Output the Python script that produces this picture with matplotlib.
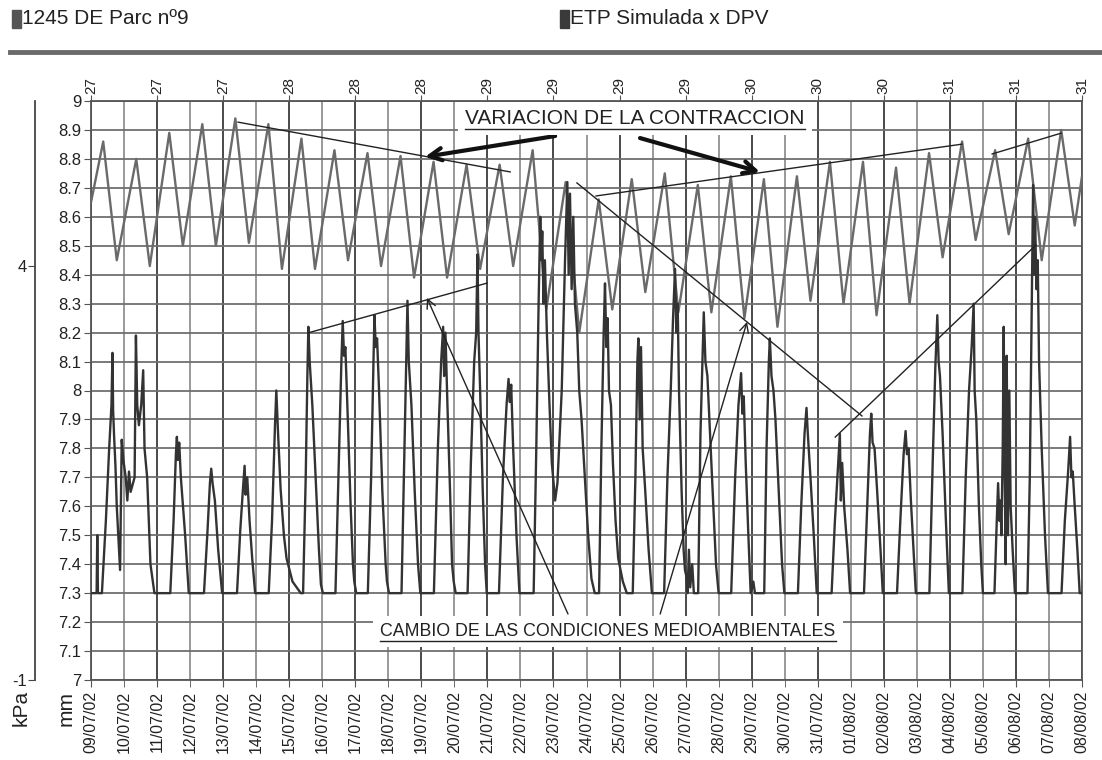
import numpy as np
import matplotlib
matplotlib.use("Agg")
import matplotlib.pyplot as plt
from matplotlib.lines import Line2D
from matplotlib.patches import Rectangle

plt.rcParams['font.family'] = ['Liberation Sans', 'DejaVu Sans']

# ---------------- data ----------------
dates = ["09/07/02", "10/07/02", "11/07/02", "12/07/02", "13/07/02", "14/07/02",
         "15/07/02", "16/07/02", "17/07/02", "18/07/02", "19/07/02", "20/07/02",
         "21/07/02", "22/07/02", "23/07/02", "24/07/02", "25/07/02", "26/07/02",
         "27/07/02", "28/07/02", "29/07/02", "30/07/02", "31/07/02", "01/08/02",
         "02/08/02", "03/08/02", "04/08/02", "05/08/02", "06/08/02", "07/08/02",
         "08/08/02"]
top_labels = ["27", "27", "27", "28", "28", "28", "29", "29", "29", "29",
              "30", "30", "30", "31", "31", "31"]
mm_ticks = [7.0, 7.1, 7.2, 7.3, 7.4, 7.5, 7.6, 7.7, 7.8, 7.9, 8.0,
            8.1, 8.2, 8.3, 8.4, 8.5, 8.6, 8.7, 8.8, 8.9, 9.0]
mm_labels = ["7", "7.1", "7.2", "7.3", "7.4", "7.5", "7.6", "7.7", "7.8", "7.9", "8",
             "8.1", "8.2", "8.3", "8.4", "8.5", "8.6", "8.7", "8.8", "8.9", "9"]
kpa_ticks = [-1, 4]

# dendrometer (mm): daily maximum / minimum, start / end values
dendro_start = 8.65
dendro_end = 8.74
dendro_peak = [8.86, 8.80, 8.89, 8.92, 8.94, 8.92, 8.87, 8.83, 8.82, 8.81,
               8.79, 8.78, 8.78, 8.83, 8.72, 8.66, 8.73, 8.75, 8.71, 8.74,
               8.73, 8.74, 8.79, 8.79, 8.77, 8.82, 8.86, 8.83, 8.87, 8.90]
dendro_trough = [8.45, 8.43, 8.50, 8.50, 8.51, 8.42, 8.42, 8.45, 8.43, 8.39,
                 8.39, 8.42, 8.43, 8.28, 8.20, 8.28, 8.34, 8.27, 8.27, 8.25,
                 8.22, 8.31, 8.30, 8.26, 8.30, 8.46, 8.52, 8.54, 8.45, 8.57]
peak_time = 0.37      # fraction of the day of the daily maximum
trough_time = 0.78    # fraction of the day of the daily minimum

# ETP simulada x DPV: turning points (days since 09/07/02), read on the mm grid
etp_time = [
    0.00, 0.17, 0.19, 0.21, 0.33, 0.45, 0.55, 0.62, 0.65, 0.67, 0.70, 0.74, 0.78, 0.88, 0.93,
    0.98, 1.05, 1.10, 1.15, 1.20, 1.32, 1.36, 1.40, 1.45, 1.52, 1.58, 1.62, 1.70, 1.80, 1.92,
    2.40, 2.50, 2.57, 2.60, 2.63, 2.67, 2.72, 2.85, 2.96,
    3.42, 3.52, 3.60, 3.64, 3.68, 3.75, 3.85, 3.97,
    4.42, 4.52, 4.60, 4.65, 4.68, 4.73, 4.80, 4.88, 4.97,
    5.38, 5.48, 5.57, 5.61, 5.66, 5.74, 5.84, 5.92, 6.10, 6.35,
    6.42, 6.50, 6.55, 6.58, 6.62, 6.70, 6.80, 6.90, 6.96, 7.02,
    7.40, 7.50, 7.58, 7.62, 7.66, 7.70, 7.76, 7.86, 7.93, 7.97, 8.03,
    8.38, 8.48, 8.55, 8.58, 8.62, 8.66, 8.72, 8.82, 8.92, 8.96, 9.02,
    9.40, 9.48, 9.55, 9.58, 9.62, 9.70, 9.80, 9.90, 9.97,
    10.38, 10.50, 10.60, 10.66, 10.69, 10.73, 10.79, 10.87, 10.93, 10.98, 11.04,
    11.40, 11.50, 11.60, 11.66, 11.70, 11.73, 11.78, 11.86, 11.93, 11.98,
    12.35, 12.47, 12.58, 12.64, 12.68, 12.72, 12.78, 12.88, 12.97,
    13.40, 13.48, 13.55, 13.60, 13.63, 13.66, 13.70, 13.74, 13.80, 13.88,
    13.95, 14.05, 14.12, 14.25, 14.35, 14.42, 14.46, 14.50, 14.55, 14.60,
    14.65, 14.72, 14.78, 14.85, 14.95, 15.05, 15.15, 15.25,
    15.38, 15.45, 15.52, 15.56, 15.60, 15.64, 15.68, 15.74, 15.80, 15.88, 15.96, 16.10, 16.22,
    16.40, 16.48, 16.54, 16.57, 16.61, 16.65, 16.70, 16.78, 16.88, 16.98,
    17.35, 17.45, 17.55, 17.62, 17.68, 17.72, 17.76, 17.80, 17.88, 17.94, 17.98,
    18.02, 18.06, 18.10, 18.14, 18.20, 18.25, 18.38, 18.45, 18.52, 18.55, 18.60, 18.66,
    18.72, 18.82, 18.92, 19.00,
    19.38, 19.50, 19.60, 19.68, 19.72, 19.76, 19.82, 19.90, 19.97, 20.05, 20.10,
    20.38, 20.45, 20.52, 20.55, 20.60, 20.66, 20.72, 20.82, 20.92, 20.99,
    21.40, 21.50, 21.60, 21.66, 21.70, 21.78, 21.88, 21.97,
    22.42, 22.52, 22.62, 22.67, 22.70, 22.74, 22.80, 22.90, 22.98,
    23.40, 23.50, 23.58, 23.62, 23.66, 23.72, 23.80, 23.90, 23.97,
    24.40, 24.50, 24.60, 24.66, 24.70, 24.75, 24.82, 24.90, 24.97,
    25.38, 25.48, 25.56, 25.62, 25.66, 25.70, 25.78, 25.88, 25.97,
    26.38, 26.48, 26.58, 26.66, 26.72, 26.75, 26.80, 26.88, 26.95, 27.00,
    27.35, 27.42, 27.46, 27.50, 27.53, 27.56, 27.60, 27.63, 27.66, 27.69, 27.72, 27.76,
    27.80, 27.84, 27.90, 27.97,
    28.35, 28.42, 28.48, 28.52, 28.55, 28.58, 28.62, 28.66, 28.70, 28.78, 28.88, 28.97,
    29.38, 29.48, 29.58, 29.64, 29.68, 29.72, 29.78, 29.86, 29.93, 30.00,
]
etp_mm = [
    7.30, 7.30, 7.50, 7.30, 7.30, 7.55, 7.80, 7.95, 8.13, 7.93, 7.84, 7.74, 7.60, 7.38, 7.83,
    7.76, 7.70, 7.62, 7.72, 7.65, 7.70, 8.19, 7.95, 7.88, 7.95, 8.07, 7.80, 7.70, 7.40, 7.30,
    7.30, 7.55, 7.78, 7.84, 7.76, 7.82, 7.70, 7.50, 7.30,
    7.30, 7.50, 7.68, 7.73, 7.68, 7.62, 7.45, 7.30,
    7.30, 7.52, 7.66, 7.74, 7.64, 7.70, 7.55, 7.42, 7.30,
    7.30, 7.55, 7.88, 8.00, 7.86, 7.66, 7.50, 7.42, 7.34, 7.30,
    7.30, 7.70, 8.05, 8.22, 8.10, 7.95, 7.70, 7.45, 7.33, 7.30,
    7.30, 7.75, 8.10, 8.24, 8.12, 8.15, 7.95, 7.60, 7.40, 7.34, 7.30,
    7.30, 7.70, 8.10, 8.26, 8.15, 8.18, 8.00, 7.65, 7.40, 7.34, 7.30,
    7.30, 7.75, 8.15, 8.31, 8.10, 7.95, 7.65, 7.40, 7.30,
    7.30, 7.80, 8.10, 8.22, 8.05, 8.20, 7.95, 7.65, 7.40, 7.34, 7.30,
    7.30, 7.75, 8.10, 8.20, 8.47, 8.20, 8.00, 7.65, 7.40, 7.30,
    7.30, 7.70, 7.95, 8.04, 7.96, 8.02, 7.80, 7.50, 7.30,
    7.30, 7.80, 8.30, 8.60, 8.45, 8.55, 8.30, 8.45, 8.20, 7.95,
    7.75, 7.62, 7.68, 8.00, 8.45, 8.72, 8.40, 8.68, 8.35, 8.60,
    8.30, 8.20, 8.00, 7.90, 7.70, 7.50, 7.35, 7.30,
    7.30, 7.80, 8.20, 8.37, 8.15, 8.25, 8.00, 7.95, 7.75, 7.55, 7.42, 7.34, 7.30,
    7.30, 7.70, 8.10, 8.18, 7.90, 8.15, 7.80, 7.65, 7.45, 7.30,
    7.30, 7.70, 8.00, 8.25, 8.42, 8.20, 8.30, 8.00, 7.65, 7.45, 7.38,
    7.36, 7.30, 7.45, 7.32, 7.40, 7.30, 7.30, 7.85, 8.15, 8.27, 8.10, 8.05,
    7.90, 7.65, 7.40, 7.30,
    7.30, 7.70, 7.95, 8.06, 7.92, 7.98, 7.75, 7.50, 7.30, 7.34, 7.30,
    7.30, 7.80, 8.10, 8.18, 8.05, 8.00, 7.90, 7.65, 7.40, 7.30,
    7.30, 7.60, 7.85, 7.94, 7.85, 7.70, 7.50, 7.30,
    7.30, 7.55, 7.75, 7.85, 7.62, 7.75, 7.60, 7.45, 7.30,
    7.30, 7.60, 7.85, 7.92, 7.82, 7.80, 7.65, 7.45, 7.30,
    7.30, 7.55, 7.78, 7.86, 7.78, 7.80, 7.62, 7.45, 7.30,
    7.30, 7.75, 8.08, 8.26, 8.10, 8.05, 7.85, 7.55, 7.30,
    7.30, 7.70, 8.00, 8.15, 8.30, 8.00, 7.90, 7.60, 7.40, 7.30,
    7.30, 7.55, 7.68, 7.55, 7.62, 7.50, 7.80, 8.22, 7.70, 7.40, 8.12, 7.50,
    8.00, 7.60, 7.45, 7.30,
    7.30, 7.70, 8.30, 8.71, 8.40, 8.60, 8.35, 8.45, 8.10, 7.80, 7.50, 7.30,
    7.30, 7.55, 7.72, 7.84, 7.70, 7.72, 7.60, 7.45, 7.30, 7.30,
]

# annotation lines (days, mm)
trend_lines = [
    ((4.45, 8.927), (12.69, 8.755)),
    ((15.29, 8.672), (26.37, 8.851)),
    ((27.28, 8.817), (29.37, 8.889)),
    ((14.71, 8.717), (23.34, 7.912)),
    ((6.57, 8.199), (11.99, 8.371)),
    ((22.53, 7.839), (28.61, 8.503)),
]
thick_arrows = [((14.05, 8.879), (10.11, 8.807)),
                ((16.62, 8.872), (20.25, 8.755))]
thin_arrows = [((14.44, 7.228), (10.17, 8.320)),
               ((17.23, 7.228), (19.86, 8.237))]

# ---------------- derived series ----------------
n_days = len(dendro_peak)
d_t = [0.0]
d_v = [dendro_start]
for d in range(n_days):
    d_t += [d + peak_time, d + trough_time]
    d_v += [dendro_peak[d], dendro_trough[d]]
d_t.append(float(n_days))
d_v.append(dendro_end)

# mm grid -> kPa axis (7 mm <-> -1 kPa, 9 mm <-> 6 kPa)
etp_kpa = (np.array(etp_mm) - 7.0) * 3.5 - 1.0

# ---------------- figure ----------------
W, H = 1102, 760
fig = plt.figure(figsize=(W / 100, H / 100), dpi=100, facecolor='white')
ax = fig.add_axes([91 / W, 80 / H, 991 / W, 579 / H])
ax.set_facecolor('white')

xs = np.arange(len(dates))
ax.set_xlim(0, len(dates) - 1)
ax.set_ylim(7, 9)

ax.set_xticks(xs[::2], labels=dates[::2])
ax.set_xticks(xs[1::2], labels=dates[1::2], minor=True)
ax.set_yticks(mm_ticks, labels=mm_labels)
for lab in ax.get_xticklabels(which='both'):
    lab.set_rotation(90)
    lab.set_fontsize(11.5)
    lab.set_color('#222222')
ax.tick_params(axis='y', labelsize=12, labelcolor='#222222', length=5,
               color='#555555', pad=2)
ax.tick_params(axis='x', which='both', length=5, color='#555555', pad=3)

ax.grid(axis='y', color='#6f6f6f', lw=1.3)
ax.grid(axis='x', which='major', color='#4a4a4a', lw=1.4)
ax.grid(axis='x', which='minor', color='#7d7d7d', lw=1.1)
ax.set_axisbelow(True)
for sp in ax.spines.values():
    sp.set_color('#555555')
    sp.set_linewidth(1.3)

# top axis
top = ax.secondary_xaxis('top')
top.set_xticks(xs[::2], labels=top_labels)
top.tick_params(length=4, color='#555555', labelsize=11, labelcolor='#222222', pad=1)
for lab in top.get_xticklabels():
    lab.set_rotation(90)
top.spines['top'].set_visible(False)

# dendrometer series
ax.plot(d_t, d_v, color='#6a6a6a', lw=1.7, zorder=3, solid_joinstyle='round')

# kPa axis (spine 56 px left of the plot)
ax2 = ax.twinx()
ax2.set_ylim(-1, 6)
ax2.yaxis.set_ticks_position('left')
ax2.spines['left'].set_position(('outward', 56 * 0.72))
ax2.spines['left'].set_color('#444444')
ax2.spines['left'].set_linewidth(1.3)
for s in ['right', 'top', 'bottom']:
    ax2.spines[s].set_visible(False)
ax2.set_yticks(kpa_ticks, labels=[str(k) for k in kpa_ticks])
ax2.tick_params(axis='y', labelsize=12, labelcolor='#222222', length=5,
                color='#444444', pad=1)
ax2.plot(etp_time, etp_kpa, color='#333333', lw=1.7, zorder=3,
         solid_joinstyle='round')

# annotations (in main axes' data coords, drawn via ax2 to stay on top)
tr = ax.transData
for (p0, p1) in trend_lines:
    ax2.add_line(Line2D([p0[0], p1[0]], [p0[1], p1[1]], transform=tr,
                        color='#222222', lw=1.0, zorder=6))
for (tail, head) in thick_arrows:
    ax2.annotate('', xy=head, xytext=tail, xycoords=tr, textcoords=tr,
                 arrowprops=dict(arrowstyle='->', lw=3.0, color='#111111',
                                 mutation_scale=22, shrinkA=0, shrinkB=0),
                 zorder=7)
for (tail, head) in thin_arrows:
    ax2.annotate('', xy=head, xytext=tail, xycoords=tr, textcoords=tr,
                 arrowprops=dict(arrowstyle='->', lw=1.0, color='#222222',
                                 mutation_scale=16, shrinkA=0, shrinkB=0),
                 zorder=6)

t1 = ax2.text(16.47, 8.94, 'VARIACION DE LA CONTRACCION', transform=tr,
              ha='center', va='center', fontsize=15, color='#222222', zorder=8,
              bbox=dict(facecolor='white', edgecolor='none', pad=5))
t2 = ax2.text(15.65, 7.168, 'CAMBIO DE LAS CONDICIONES MEDIOAMBIENTALES', transform=tr,
              ha='center', va='center', fontsize=12.8, color='#222222', zorder=8,
              bbox=dict(facecolor='white', edgecolor='none', pad=5))

# axis unit labels
fig.text(21 / W, 1 - 708 / H, 'kPa', rotation=90, ha='center', va='center',
         fontsize=15, color='#222222')
fig.text(66 / W, 1 - 709 / H, 'mm', rotation=90, ha='center', va='center',
         fontsize=15, color='#222222')

# legend strip
fig.patches.append(Rectangle((12 / W, 1 - 28 / H), 9 / W, 18 / H,
                             transform=fig.transFigure, color='#555555'))
fig.text(22 / W, 1 - 19 / H, '1245 DE Parc nº9', ha='left', va='center',
         fontsize=15, color='#222222')
fig.patches.append(Rectangle((560 / W, 1 - 28 / H), 9 / W, 18 / H,
                             transform=fig.transFigure, color='#3a3a3a'))
fig.text(570 / W, 1 - 19 / H, 'ETP Simulada x DPV', ha='left', va='center',
         fontsize=15, color='#222222')
fig.add_artist(Line2D([10 / W, 1.0], [1 - 52 / H, 1 - 52 / H],
                      transform=fig.transFigure, color='#6a6a6a', lw=3.5))

# underline the annotation texts
fig.canvas.draw()
renderer = fig.canvas.get_renderer()
inv = fig.transFigure.inverted()
for t in (t1, t2):
    bb = t.get_window_extent(renderer=renderer)
    (x0, y0) = inv.transform((bb.x0, bb.y0 - 1))
    (x1, _) = inv.transform((bb.x1, bb.y0 - 1))
    fig.add_artist(Line2D([x0, x1], [y0, y0], transform=fig.transFigure,
                          color='#222222', lw=1.0, zorder=10))

fig.savefig('out.png', dpi=100, facecolor='white')
